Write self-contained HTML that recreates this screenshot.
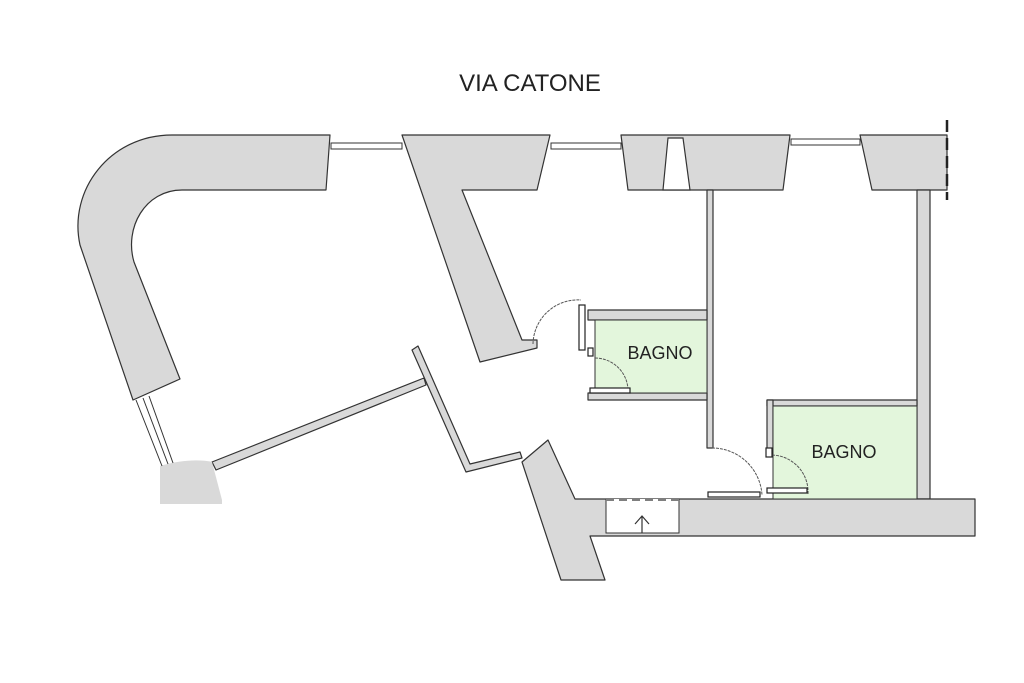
<!DOCTYPE html>
<html><head><style>
html,body{margin:0;padding:0;background:#fff;width:1024px;height:683px;overflow:hidden}
svg{display:block}
text{font-family:"Liberation Sans",sans-serif;fill:#222}
</style></head><body>
<svg width="1024" height="683" viewBox="0 0 1024 683">
<g fill="#d9d9d9" stroke="#333" stroke-width="1.2" stroke-linejoin="round">
<!-- left curved wall -->
<path d="M330,135 L172,135 C110,135 68,190 80,245 L133,400 L180,379 L134,262 C124,228 145,190 182,190 L326,190 Z"/>
<!-- chunk 2 diagonal -->
<path d="M402,135 L550,135 L537,190 L462,190 L522,340 L537,340 L537,348 L480,362 Z"/>
<!-- chunk 3 -->
<path d="M621,135 L790,135 L783,190 L628,190 Z"/>
<!-- chunk 4 -->
<path d="M860,135 L947,135 L947,190 L872,190 Z"/>
<!-- right vertical wall -->
<rect x="917" y="190" width="13" height="309"/>
<!-- central thin wall -->
<rect x="707" y="190" width="6" height="258"/>
<!-- bagno1 walls -->
<rect x="588" y="310" width="119" height="10"/>
<rect x="588" y="393" width="119" height="7"/>
<!-- bagno2 walls -->
<rect x="767" y="400" width="150" height="6"/>
<rect x="767" y="400" width="6" height="56"/>
<!-- bottom wall -->
<path d="M575,499 L975,499 L975,536 L590,536 L605,580 L561,580 L522,462 L548,440 Z"/>
<!-- thin diagonal walls -->
<path d="M412,350 L418,346 L470,464 L520,452 L522,458 L466,472 Z"/>
<path d="M212,462 L424,378 L426,385 L216,470 Z"/>
<!-- bottom-left block -->
<path d="M160,466 C180,460 200,459 212,462 L222,500 L222,504 L160,504 Z" stroke="none"/>
</g>
<!-- chimney -->
<path d="M668,138 L683,138 L690,190 L663,190 Z" fill="#fff" stroke="#333" stroke-width="1.2"/>
<!-- green rooms -->
<rect x="595" y="320" width="112" height="73" fill="#e3f6dc" stroke="#333" stroke-width="1"/>
<rect x="773" y="406" width="144" height="93" fill="#e3f6dc" stroke="#333" stroke-width="1"/>
<!-- windows -->
<g stroke="#333" stroke-width="1" fill="#fff">
<rect x="331" y="143" width="71" height="6"/>
<rect x="551" y="143" width="70" height="6"/>
<rect x="791" y="139" width="69" height="6"/>
<line x1="136" y1="400" x2="162" y2="466"/>
<line x1="143" y1="398" x2="168" y2="464"/>
<line x1="149" y1="396" x2="173" y2="463"/>
</g>
<!-- dashed right -->
<line x1="947" y1="120" x2="947" y2="200" stroke="#222" stroke-width="2.5" stroke-dasharray="12,6"/>
<!-- stair box -->
<rect x="606" y="500" width="73" height="33" fill="#fff" stroke="#333" stroke-width="1"/>
<line x1="606" y1="500" x2="679" y2="500" stroke="#fff" stroke-width="2"/>
<line x1="606" y1="500" x2="679" y2="500" stroke="#333" stroke-width="1.2" stroke-dasharray="8,5"/>
<path d="M642,533 L642,516 M635,524 L642,516 L649,524" fill="none" stroke="#333" stroke-width="1.2"/>
<!-- doors -->
<g fill="none" stroke="#555" stroke-width="1" stroke-dasharray="3,1">
<path d="M533,344 A45,45 0 0 1 581,300"/>
<path d="M595,358 A33,33 0 0 1 628,390"/>
<path d="M712,448 A50,50 0 0 1 762,495"/>
<path d="M772,455 A37,37 0 0 1 808,494"/>
</g>
<g fill="#fff" stroke="#222" stroke-width="1.2">
<rect x="579" y="305" width="6" height="45"/>
<rect x="588" y="348" width="5" height="8"/>
<rect x="590" y="388" width="40" height="5"/>
<rect x="708" y="492" width="52" height="5"/>
<rect x="767" y="488" width="40" height="5"/>
<rect x="766" y="448" width="6" height="9"/>
</g>
<text x="530" y="91" font-size="24" text-anchor="middle">VIA CATONE</text>
<text x="660" y="359" font-size="18" text-anchor="middle">BAGNO</text>
<text x="844" y="458" font-size="18" text-anchor="middle">BAGNO</text>
</svg>
</body></html>
